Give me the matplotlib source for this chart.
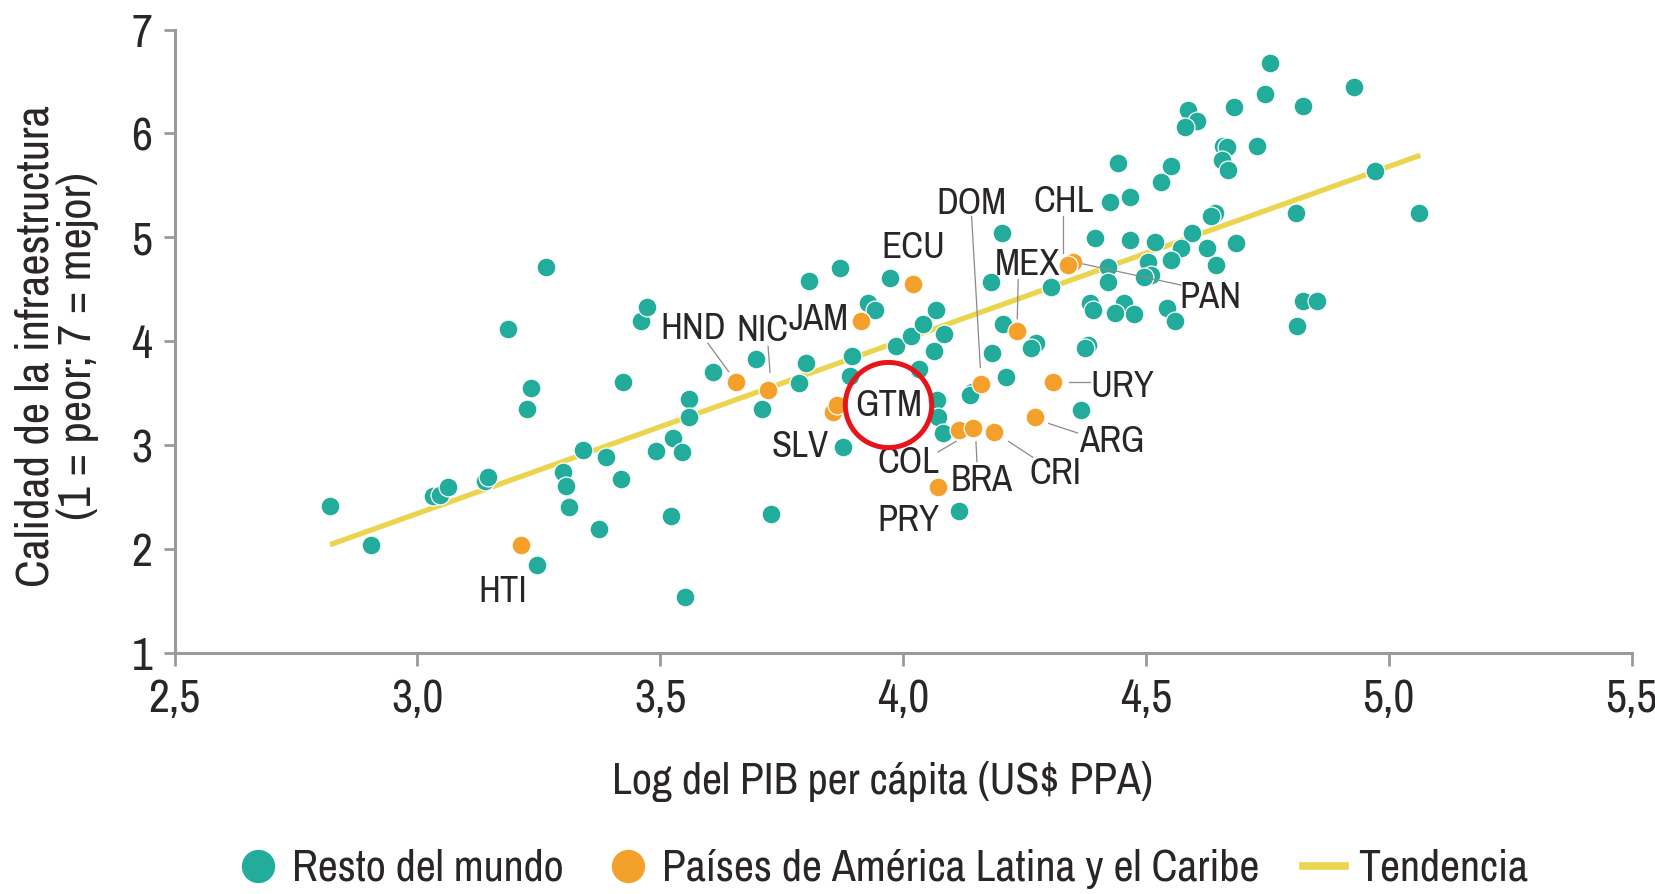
import matplotlib
matplotlib.use("Agg")
import matplotlib.pyplot as plt
from matplotlib.lines import Line2D
from matplotlib.patches import Ellipse
from matplotlib import font_manager

# ---------------- data ----------------
rest_x = [2.820, 2.904, 3.033, 3.047, 3.062, 3.139, 3.146, 3.186, 3.265, 3.233,
          3.225, 3.246, 3.300, 3.305, 3.313, 3.340, 3.388, 3.420, 3.373, 3.424,
          3.460, 3.472, 3.491, 3.560, 3.560, 3.527, 3.544, 3.523, 3.550, 3.727,
          3.608, 3.698, 3.710, 3.786, 3.801, 3.806, 3.870, 3.928, 3.942, 3.973,
          3.894, 3.891, 3.877, 3.985, 4.017, 4.041, 4.068, 4.084, 4.064, 4.033,
          4.069, 4.072, 4.083, 4.115, 4.141, 4.138, 4.212, 4.184, 4.206, 4.180,
          4.273, 4.264, 4.367, 4.381, 4.374, 4.385, 4.390, 4.395, 4.203, 4.756,
          4.745, 4.928, 4.824, 4.681, 4.586, 4.605, 4.580, 4.729, 4.658, 4.666,
          4.656, 4.669, 4.971, 4.443, 4.551, 4.530, 4.467, 4.426, 4.642, 4.633,
          4.808, 5.062, 4.467, 4.518, 4.594, 4.625, 4.685, 4.645, 4.573, 4.552,
          4.505, 4.510, 4.495, 4.422, 4.422, 4.304, 4.454, 4.437, 4.475, 4.544,
          4.559, 4.824, 4.852, 4.812]
rest_y = [2.413, 2.037, 2.509, 2.519, 2.593, 2.656, 2.689, 4.114, 4.711, 3.546,
          3.350, 1.845, 2.743, 2.608, 2.400, 2.952, 2.882, 2.673, 2.188, 3.610,
          4.194, 4.326, 2.945, 3.440, 3.273, 3.065, 2.936, 2.316, 1.539, 2.333,
          3.706, 3.825, 3.344, 3.594, 3.793, 4.582, 4.701, 4.370, 4.300, 4.605,
          3.857, 3.664, 2.978, 3.953, 4.050, 4.165, 4.300, 4.069, 3.908, 3.729,
          3.433, 3.273, 3.113, 2.364, 3.513, 3.481, 3.658, 3.889, 4.165, 4.573,
          3.985, 3.931, 3.337, 3.963, 3.931, 4.370, 4.300, 4.990, 5.038, 6.675,
          6.380, 6.444, 6.267, 6.252, 6.226, 6.123, 6.059, 5.879, 5.879, 5.866,
          5.744, 5.648, 5.641, 5.718, 5.686, 5.536, 5.391, 5.337, 5.237, 5.205,
          5.231, 5.231, 4.974, 4.958, 5.038, 4.894, 4.948, 4.733, 4.894, 4.781,
          4.765, 4.637, 4.615, 4.717, 4.573, 4.525, 4.365, 4.274, 4.261, 4.316,
          4.197, 4.390, 4.390, 4.146]

latam_codes = ["HTI", "HND", "NIC", "JAM", "ECU", "SLV", "GTM", "COL", "BRA",
               "CRI", "PRY", "DOM", "MEX", "URY", "ARG", "CHL", "PAN"]
latam_x = [3.213, 3.655, 3.722, 3.913, 4.021, 3.856, 3.864, 4.115, 4.144,
           4.188, 4.072, 4.160, 4.235, 4.308, 4.271, 4.350, 4.340]
latam_y = [2.037, 3.610, 3.530, 4.197, 4.550, 3.321, 3.385, 3.144, 3.161,
           3.128, 2.599, 3.584, 4.101, 3.610, 3.273, 4.765, 4.733]

trend_x = [2.82, 5.065]
trend_y = [2.04, 5.79]

x_ticks = [2.5, 3.0, 3.5, 4.0, 4.5, 5.0, 5.5]
x_tick_labels = ["2,5", "3,0", "3,5", "4,0", "4,5", "5,0", "5,5"]
y_ticks = [1, 2, 3, 4, 5, 6, 7]

# label layout (text position, optional leader line start/end)
label_layout = {
    "HTI": ((3.176, 1.62), None),
    "HND": ((3.568, 4.154), ((3.598, 3.98), (3.641, 3.706))),
    "NIC": ((3.710, 4.133), ((3.722, 3.95), (3.726, 3.70))),
    "JAM": ((3.826, 4.235), None),
    "ECU": ((4.022, 4.927), None),
    "SLV": ((3.787, 3.014), None),
    "GTM": ((3.970, 3.411), None),
    "COL": ((4.011, 2.862), ((4.072, 2.933), (4.109, 3.035))),
    "BRA": ((4.161, 2.689), ((4.152, 2.84), (4.150, 3.03))),
    "CRI": ((4.313, 2.750), ((4.267, 2.882), (4.217, 3.035))),
    "PRY": ((4.011, 2.302), None),
    "DOM": ((4.141, 5.354), ((4.141, 5.201), (4.159, 3.747))),
    "MEX": ((4.257, 4.764), ((4.237, 4.591), (4.235, 4.215))),
    "CHL": ((4.330, 5.374), ((4.330, 5.201), (4.330, 4.845))),
    "PAN": ((4.633, 4.449), ((4.370, 4.744), (4.572, 4.540))),
    "URY": ((4.452, 3.594), ((4.341, 3.604), (4.385, 3.604))),
    "ARG": ((4.430, 3.065), ((4.300, 3.207), (4.359, 3.116))),
}

# ---------------- style ----------------
available = {f.name for f in font_manager.fontManager.ttflist}
prefs = ["Liberation Sans Narrow", "Arial Narrow", "Archivo Narrow", "PT Sans Narrow",
         "Roboto Condensed", "Pragati Narrow", "Liberation Sans"]
main_font = next((p for p in prefs if p in available), "DejaVu Sans")
plt.rcParams["font.family"] = [main_font, "DejaVu Sans"]

TEAL = "#22AC9B"
ORANGE = "#F4A12B"
YELLOW = "#EBD54E"
AXIS = "#9A9A9C"
TEXT = "#2A2627"

fig = plt.figure(figsize=(16.56, 8.94), dpi=100)
ax = fig.add_axes([0.1054, 0.2699, 0.8799, 0.6970])

ax.plot(trend_x, trend_y, color=YELLOW, lw=3.8, solid_capstyle="butt", zorder=2)
ax.scatter(rest_x, rest_y, s=185, color=TEAL, edgecolors="white", linewidths=0.9, zorder=3)
ax.scatter(latam_x, latam_y, s=185, color=ORANGE, edgecolors="white", linewidths=0.9, zorder=4)

for code in latam_codes:
    (tx, ty), leader = label_layout[code]
    ax.text(tx, ty, code, fontsize=26.5, color=TEXT, ha="center", va="center_baseline", zorder=6)
    if leader is not None:
        (x0, y0), (x1, y1) = leader
        ax.plot([x0, x1], [y0, y1], color="#8A8A8A", lw=0.9, zorder=5)

# red highlight circle around GTM
ax.add_patch(Ellipse((3.970, 3.385), 0.178, 0.82, fill=False, edgecolor="#E8141B",
                     lw=3.6, zorder=7))

ax.set_xlim(2.5, 5.5)
ax.set_ylim(1, 7)
ax.set_xticks(x_ticks)
ax.set_xticklabels(x_tick_labels)
ax.set_yticks(y_ticks)
for s in ["top", "right"]:
    ax.spines[s].set_visible(False)
for s in ["left", "bottom"]:
    ax.spines[s].set_color(AXIS)
    ax.spines[s].set_linewidth(2.2)
ax.tick_params(axis="both", colors=AXIS, width=2.0, labelcolor=TEXT, labelsize=33)
ax.tick_params(axis="x", length=9, pad=9)
ax.tick_params(axis="y", length=8, pad=8)

fig.text(0.034, 0.613, "Calidad de la infraestructura\n(1 = peor; 7 = mejor)",
         rotation=90, ha="center", va="center", fontsize=33.5, color=TEXT,
         multialignment="center", linespacing=1.0)
fig.text(0.533, 0.126, "Log del PIB per cápita (US$ PPA)", ha="center", va="center",
         fontsize=31.5, color=TEXT)

handles = [
    Line2D([], [], marker="o", ls="none", markersize=24, markerfacecolor=TEAL,
           markeredgecolor="none"),
    Line2D([], [], marker="o", ls="none", markersize=24, markerfacecolor=ORANGE,
           markeredgecolor="none"),
    Line2D([], [], color=YELLOW, lw=5.5),
]
leg = fig.legend(handles, ["Resto del mundo", "Países de América Latina y el Caribe", "Tendencia"],
                 loc="center", bbox_to_anchor=(0.533, 0.028), ncol=3, frameon=False,
                 fontsize=31.5, handlelength=0.95, handletextpad=0.3, columnspacing=1.0)
for t in leg.get_texts():
    t.set_color(TEXT)

fig.savefig("out.png", dpi=100)
